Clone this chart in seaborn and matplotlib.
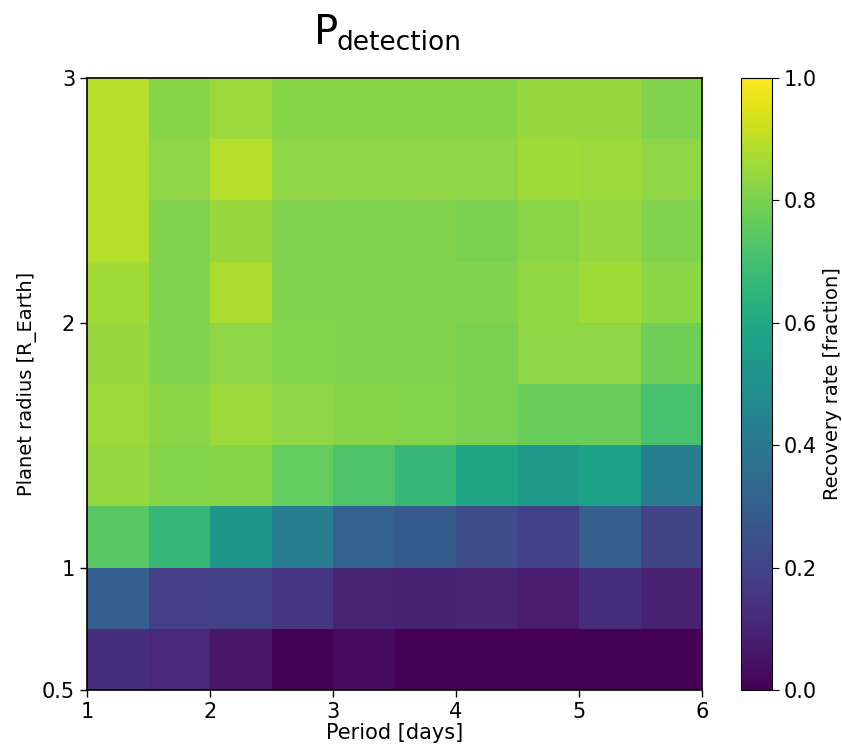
import numpy as np
import matplotlib
matplotlib.use('Agg')
import matplotlib.pyplot as plt
import seaborn as sns

# grid edges
period_edges = [1.0, 1.5, 2.0, 2.5, 3.0, 3.5, 4.0, 4.5, 5.0, 5.5, 6.0]
radius_edges = [0.5, 0.75, 1.0, 1.25, 1.5, 1.75, 2.0, 2.25, 2.5, 2.75, 3.0]

# recovery fraction, rows from largest radius (top) to smallest (bottom)
row_2p75 = [0.89, 0.82, 0.85, 0.82, 0.82, 0.82, 0.82, 0.845, 0.845, 0.81]
row_2p50 = [0.89, 0.83, 0.89, 0.83, 0.83, 0.83, 0.83, 0.86, 0.855, 0.83]
row_2p25 = [0.89, 0.81, 0.845, 0.81, 0.805, 0.81, 0.80, 0.825, 0.84, 0.81]
row_2p00 = [0.86, 0.81, 0.875, 0.81, 0.81, 0.81, 0.81, 0.835, 0.86, 0.825]
row_1p75 = [0.845, 0.81, 0.83, 0.815, 0.81, 0.81, 0.80, 0.83, 0.83, 0.78]
row_1p50 = [0.855, 0.825, 0.855, 0.83, 0.82, 0.815, 0.80, 0.77, 0.77, 0.71]
row_1p25 = [0.84, 0.815, 0.82, 0.76, 0.72, 0.67, 0.59, 0.54, 0.57, 0.42]
row_1p00 = [0.74, 0.67, 0.53, 0.42, 0.31, 0.28, 0.23, 0.19, 0.30, 0.20]
row_0p75 = [0.30, 0.18, 0.19, 0.16, 0.10, 0.095, 0.10, 0.075, 0.13, 0.09]
row_0p50 = [0.13, 0.11, 0.06, 0.0, 0.03, 0.0, 0.0, 0.0, 0.0, 0.0]

recovery = np.array([row_2p75, row_2p50, row_2p25, row_2p00, row_1p75,
                     row_1p50, row_1p25, row_1p00, row_0p75, row_0p50])

period_ticks = [1, 2, 3, 4, 5, 6]
radius_ticks = [0.5, 1, 2, 3]

fig = plt.figure(figsize=(8.42, 7.44), dpi=100)
ax = fig.add_axes([87 / 842, 1 - 690 / 744, 615 / 842, 612 / 744])
cax = fig.add_axes([741 / 842, 1 - 690 / 744, 31 / 842, 612 / 744])

sns.heatmap(recovery, ax=ax, cbar_ax=cax, cmap='viridis', vmin=0, vmax=1,
            xticklabels=False, yticklabels=False,
            cbar_kws={'ticks': [0, 0.2, 0.4, 0.6, 0.8, 1.0]})

# map physical values onto heatmap cell coordinates
dp = period_edges[1] - period_edges[0]
dr = radius_edges[1] - radius_edges[0]
ax.set_xticks([(p - period_edges[0]) / dp for p in period_ticks])
ax.set_xticklabels([str(p) for p in period_ticks])
ax.set_yticks([(radius_edges[-1] - r) / dr for r in radius_ticks])
ax.set_yticklabels([str(r) for r in radius_ticks])
ax.tick_params(axis='both', labelsize=15, length=5, width=1, rotation=0)

for s in ax.spines.values():
    s.set_visible(True)
    s.set_linewidth(1.2)

ax.set_xlabel('Period [days]', fontsize=15, labelpad=1)
ax.set_ylabel('Planet radius [R_Earth]', fontsize=14)

cbar = ax.collections[0].colorbar
cbar.ax.tick_params(labelsize=15, length=5)
cbar.ax.set_yticklabels(['0.0', '0.2', '0.4', '0.6', '0.8', '1.0'])
cbar.set_label('Recovery rate [fraction]', fontsize=14)
cbar.outline.set_visible(True)
cbar.outline.set_linewidth(0.8)

# title P_detection
fig.text(314 / 842, 1 - 44 / 744, 'P', fontsize=29, va='baseline')
fig.text(337 / 842, 1 - 50 / 744, 'detection', fontsize=19, va='baseline')

fig.savefig('out.png', dpi=100)
